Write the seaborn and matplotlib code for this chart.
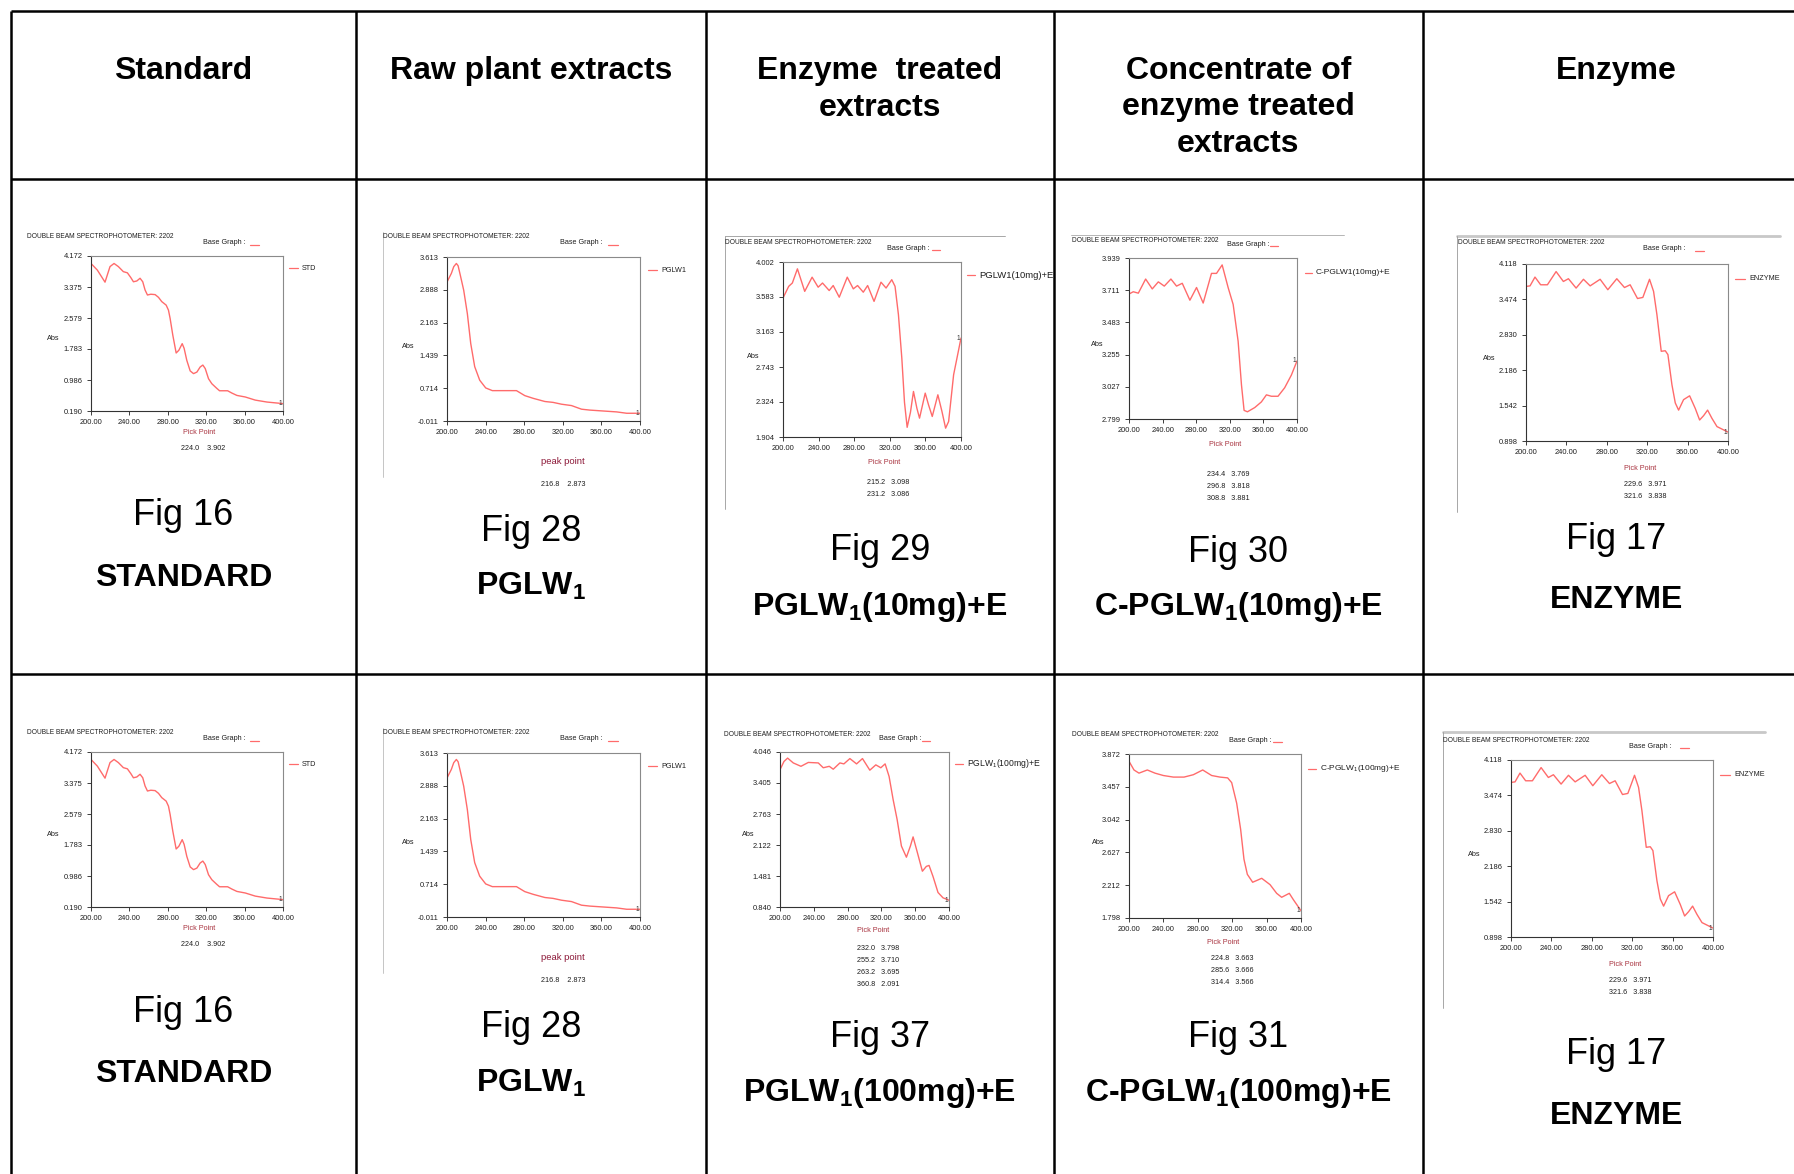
import matplotlib
matplotlib.use("Agg")
import matplotlib.pyplot as plt
import seaborn as sns
from matplotlib import font_manager

# ---------------- data ----------------
headers = [["Standard"], ["Raw plant extracts"], ["Enzyme  treated", "extracts"],
           ["Concentrate of", "enzyme treated", "extracts"], ["Enzyme"]]

wl_ticks = [200, 240, 280, 320, 360, 400]

std_wl = [200, 206.6, 214.6, 219.8, 224.0, 228.5, 233.7, 237.9, 241.4, 244.2, 247.7, 251.1,
          253.9, 256.3, 258.8, 262.3, 266.8, 270.3, 273.7, 278.3, 280.7, 282.4, 285.2, 288.7,
          291.5, 295.0, 297.0, 299.8, 303.3, 306.8, 310.3, 313.7, 316.5, 319.0, 322.4, 325.9,
          331.1, 333.9, 342.3, 346.8, 352.0, 360.7, 371.1, 383.3, 400]
std_abs = [3.98, 3.81, 3.50, 3.90, 3.98, 3.90, 3.77, 3.74, 3.62, 3.51, 3.53, 3.60,
           3.51, 3.30, 3.17, 3.19, 3.18, 3.11, 3.00, 2.91, 2.78, 2.57, 2.14, 1.68,
           1.75, 1.92, 1.80, 1.49, 1.22, 1.15, 1.19, 1.32, 1.37, 1.28, 1.02, 0.89,
           0.77, 0.71, 0.71, 0.65, 0.59, 0.55, 0.47, 0.42, 0.38]
std_yticks = [0.190, 0.986, 1.783, 2.579, 3.375, 4.172]
std_pick = ["224.0    3.902"]

pglw_wl = [200, 204.5, 207, 209.7, 211.5, 213.8, 217.3, 221.1, 224.6, 228.7, 233.9, 240.1,
           247, 258.1, 272, 280.6, 289.3, 301.4, 310, 318.7, 329, 339.4, 348, 361.9,
           375.8, 386.2, 400]
pglw_abs = [3.06, 3.25, 3.40, 3.47, 3.42, 3.21, 2.88, 2.36, 1.70, 1.19, 0.89, 0.72,
            0.66, 0.66, 0.66, 0.55, 0.49, 0.42, 0.40, 0.36, 0.33, 0.25, 0.23, 0.21,
            0.19, 0.16, 0.16]
pglw_yticks = [-0.011, 0.714, 1.439, 2.163, 2.888, 3.613]
pglw_pick = ["216.8    2.873"]

e10_wl = [200, 206.4, 210.5, 216.2, 224.4, 232.7, 239.5, 244.4, 251.9, 256.4, 263.2, 272.2,
          279, 283.8, 290.2, 295.1, 302.3, 310.1, 315.8, 322.2, 325.9, 329.7, 333.5, 336.5,
          339.5, 343.2, 346.6, 350.4, 353.4, 359.8, 363.5, 367.7, 374, 378.6, 382.7, 386.1,
          391.7, 400]
e10_abs = [3.57, 3.71, 3.75, 3.92, 3.65, 3.82, 3.70, 3.75, 3.66, 3.72, 3.58, 3.82,
           3.68, 3.72, 3.64, 3.72, 3.53, 3.76, 3.69, 3.79, 3.71, 3.37, 2.85, 2.32,
           2.02, 2.20, 2.45, 2.25, 2.13, 2.43, 2.29, 2.15, 2.41, 2.21, 2.01, 2.09,
           2.65, 3.09]
e10_yticks = [1.904, 2.324, 2.743, 3.163, 3.583, 4.002]
e10_pick = ["215.2   3.098", "231.2   3.086"]

ce10_wl = [200, 205.1, 211.1, 219.8, 227.7, 234.9, 242, 249.9, 256.6, 263.4, 272.5, 280.4,
           288.3, 298.2, 304.2, 310.9, 318, 324, 329.9, 333.9, 337, 341, 349.7, 357.6,
           363.6, 369.5, 377.4, 385.3, 393.3, 400]
ce10_abs = [3.684, 3.70, 3.69, 3.79, 3.72, 3.77, 3.74, 3.79, 3.74, 3.76, 3.64, 3.73,
            3.62, 3.83, 3.83, 3.89, 3.73, 3.61, 3.35, 3.04, 2.86, 2.85, 2.88, 2.92,
            2.97, 2.96, 2.96, 3.02, 3.11, 3.21]
ce10_yticks = [2.799, 3.027, 3.255, 3.483, 3.711, 3.939]
ce10_pick = ["234.4   3.769", "296.8   3.818", "308.8   3.881"]

enz_wl = [200, 204, 208.9, 214.5, 221.2, 229.8, 237, 242, 249.6, 256.9, 263.5, 273.4,
          281, 289.9, 297.5, 303.1, 310.4, 315.7, 322.3, 326.3, 329.6, 333.9, 337.9, 340.5,
          344.5, 347.8, 351.1, 356, 362, 367.6, 371.9, 375.9, 379.8, 384.1, 389.1, 400]
enz_abs = [3.71, 3.72, 3.88, 3.74, 3.74, 3.98, 3.80, 3.85, 3.68, 3.84, 3.72, 3.84,
           3.65, 3.85, 3.69, 3.74, 3.49, 3.51, 3.84, 3.62, 3.20, 2.53, 2.54, 2.47,
           1.92, 1.59, 1.46, 1.65, 1.72, 1.49, 1.28, 1.36, 1.46, 1.31, 1.16, 1.06]
enz_yticks = [0.898, 1.542, 2.186, 2.830, 3.474, 4.118]
enz_pick = ["229.6   3.971", "321.6   3.838"]

e100_wl = [200, 204.7, 209, 215.7, 224.8, 233.5, 245.3, 251.2, 258.3, 263, 270.9, 275.6,
           282.7, 290.6, 297.6, 306.3, 313.4, 319.3, 324.4, 329.1, 333.9, 338.6, 343.7, 349.6,
           354.3, 357.5, 362.2, 368.5, 373.2, 376.4, 381.1, 387, 392.9, 400]
e100_abs = [3.68, 3.85, 3.92, 3.82, 3.75, 3.83, 3.82, 3.72, 3.75, 3.69, 3.82, 3.80,
            3.91, 3.80, 3.91, 3.67, 3.78, 3.72, 3.80, 3.54, 3.06, 2.65, 2.10, 1.87,
            2.10, 2.29, 1.99, 1.58, 1.68, 1.70, 1.47, 1.14, 1.03, 0.98]
e100_yticks = [0.840, 1.481, 2.122, 2.763, 3.405, 4.046]
e100_pick = ["232.0   3.798", "255.2   3.710", "263.2   3.695", "360.8   2.091"]

ce100_wl = [200, 205.8, 211.6, 221.3, 230.2, 239.9, 251.6, 264, 274.8, 285.7, 296.1, 305.8,
            314.7, 319.4, 325.2, 329.8, 333.7, 337.6, 343.8, 354.3, 364, 371.7, 377.5, 386.4,
            391.1, 400]
ce100_abs = [3.78, 3.67, 3.63, 3.67, 3.63, 3.60, 3.58, 3.58, 3.61, 3.67, 3.60, 3.58,
             3.57, 3.51, 3.25, 2.92, 2.54, 2.35, 2.25, 2.30, 2.22, 2.11, 2.06, 2.11,
             2.03, 1.89]
ce100_yticks = [1.798, 2.212, 2.627, 3.042, 3.457, 3.872]
ce100_pick = ["224.8   3.663", "285.6   3.666", "314.4   3.566"]

spectra = {
    "std": (std_wl, std_abs, std_yticks, std_pick, "STD"),
    "pglw": (pglw_wl, pglw_abs, pglw_yticks, pglw_pick, "PGLW1"),
    "e10": (e10_wl, e10_abs, e10_yticks, e10_pick, "PGLW1(10mg)+E"),
    "ce10": (ce10_wl, ce10_abs, ce10_yticks, ce10_pick, "C-PGLW1(10mg)+E"),
    "enz": (enz_wl, enz_abs, enz_yticks, enz_pick, "ENZYME"),
    "e100": (e100_wl, e100_abs, e100_yticks, e100_pick, "PGLW$_1$(100mg)+E"),
    "ce100": (ce100_wl, ce100_abs, ce100_yticks, ce100_pick, "C-PGLW$_1$(100mg)+E"),
}

fig_numbers = ["Fig 16", "Fig 28", "Fig 29", "Fig 30", "Fig 17",
               "Fig 16", "Fig 28", "Fig 37", "Fig 31", "Fig 17"]
sample_names = ["STANDARD", r"PGLW$_\mathbf{1}$", r"PGLW$_\mathbf{1}$(10mg)+E",
                r"C-PGLW$_\mathbf{1}$(10mg)+E", "ENZYME",
                "STANDARD", r"PGLW$_\mathbf{1}$", r"PGLW$_\mathbf{1}$(100mg)+E",
                r"C-PGLW$_\mathbf{1}$(100mg)+E", "ENZYME"]

# ---------------- layout (pixels of the 1794x1174 canvas) ----------------
W, H = 1794, 1174
col_lines = [11, 356, 706, 1054, 1423]
row_lines = [11, 178.5, 674]
col_centers = [183.5, 531, 880, 1238.5, 1616.6]
big_dy = 4.5  # va="center" sits a little high for the large labels

panels = [
    dict(key="std", box=(91, 256, 283, 411), title=(27, 237), base=(203, 243), dash=(250, 259),
         leg=(289, 298, 268, 5.2), absl=(53, 338), pick=(199, 433, "Pick Point"), vals=(203, 449),
         frames=[], fig=(183.5, 511, 573)),
    dict(key="pglw", box=(447, 257, 640, 421), title=(383, 237), base=(560, 243), dash=(608, 618),
         leg=(648, 657, 270, 5.2), absl=(408, 346), pick=(563, 462, "peak point"), vals=(563, 485),
         frames=[((383, 383), (232, 477), "#bbbbbb", 0.6)], fig=(531, 527, 582)),
    dict(key="e10", box=(783, 262, 961, 437), title=(725, 242), base=(887, 248), dash=(932, 940),
         leg=(967, 975, 275, 6.8), absl=(753, 356), pick=(884, 463, "Pick Point"), vals=(888, 482),
         frames=[((725, 1005), (236, 236), "#999999", 0.6), ((725, 725), (236, 509), "#999999", 0.6)],
         fig=(880, 546, 602)),
    dict(key="ce10", box=(1129, 258, 1297, 419), title=(1072, 240), base=(1227, 244), dash=(1270, 1278),
         leg=(1305, 1312, 273, 6), absl=(1097, 345), pick=(1225, 445, "Pick Point"), vals=(1228, 474),
         frames=[((1071, 1344), (234.5, 234.5), "#aaaaaa", 0.6)], fig=(1238.5, 548, 603)),
    dict(key="enz", box=(1526, 264, 1728, 441), title=(1458, 243), base=(1643, 249), dash=(1695, 1704),
         leg=(1735, 1745, 279, 5.2), absl=(1489, 358), pick=(1640, 468, "Pick Point"), vals=(1645, 485),
         frames=[((1457, 1780), (235.5, 235.5), "#c8c8c8", 2.0), ((1457, 1457), (236, 512), "#999999", 0.6)],
         fig=(1616.6, 535, 596)),
    dict(key="std", box=(91, 752, 283, 907), title=(27, 733), base=(203, 739), dash=(250, 259),
         leg=(289, 298, 764, 5.2), absl=(53, 834), pick=(199, 929, "Pick Point"), vals=(203, 945),
         frames=[], fig=(183.5, 1008, 1070)),
    dict(key="pglw", box=(447, 753, 640, 917), title=(383, 733), base=(560, 739), dash=(608, 618),
         leg=(648, 657, 766, 5.2), absl=(408, 842), pick=(563, 958, "peak point"), vals=(563, 981),
         frames=[((383, 383), (728, 973), "#bbbbbb", 0.6)], fig=(531, 1023, 1079)),
    dict(key="e100", box=(780, 752, 949, 907), title=(724, 735), base=(879, 739), dash=(922, 930),
         leg=(955, 963, 764, 6.2), absl=(748, 835), pick=(873, 931, "Pick Point"), vals=(878, 949),
         frames=[], fig=(880, 1033, 1088)),
    dict(key="ce100", box=(1129, 754, 1301, 918), title=(1072, 735), base=(1229, 740), dash=(1273, 1282),
         leg=(1308, 1316, 769, 6), absl=(1098, 842), pick=(1223, 943, "Pick Point"), vals=(1232, 959),
         frames=[], fig=(1238.5, 1033, 1088)),
    dict(key="enz", box=(1511, 760, 1713, 937), title=(1443, 740), base=(1629, 746), dash=(1680, 1689),
         leg=(1720, 1730, 775, 5.2), absl=(1474, 855), pick=(1625, 964, "Pick Point"), vals=(1630, 981),
         frames=[((1443, 1765), (731.5, 731.5), "#c8c8c8", 2.0), ((1443, 1443), (732, 1008), "#999999", 0.6)],
         fig=(1616.6, 1050, 1111)),
]

# ---------------- style ----------------
sns.set_theme(style="white")
names = {f.name for f in font_manager.fontManager.ttflist}
narrow = "Liberation Sans Narrow" if "Liberation Sans Narrow" in names else "Liberation Sans"
plt.rcParams["font.family"] = [narrow, "DejaVu Sans"]
plt.rcParams["mathtext.fontset"] = "custom"
plt.rcParams["mathtext.rm"] = "Liberation Sans"
plt.rcParams["mathtext.bf"] = "Liberation Sans:bold"
plt.rcParams["mathtext.it"] = "Liberation Sans"
arial = ["Liberation Sans", "DejaVu Sans"]

curve_color = "#ff6b6b"
pick_color = "#a8323e"
ink = "#1e1e1e"

fig = plt.figure(figsize=(W / 100, H / 100), dpi=100)
fig.patch.set_facecolor("white")
bg = fig.add_axes([0, 0, 1, 1])
bg.set_xlim(0, W)
bg.set_ylim(H, 0)
bg.axis("off")

# table grid
for x in col_lines:
    bg.plot([x, x], [row_lines[0], H], color="black", lw=1.8, solid_capstyle="butt")
for y in row_lines:
    bg.plot([col_lines[0], W], [y, y], color="black", lw=1.8, solid_capstyle="butt")

# header row
header_y = [66.4, 103, 139.6]
for cx, lines in zip(col_centers, headers):
    for i, line in enumerate(lines):
        bg.text(cx, header_y[i] + big_dy, line, ha="center", va="center", fontsize=23,
                fontweight="bold", family=arial, color="black")

# spectra panels
for p, fnum, sname in zip(panels, fig_numbers, sample_names):
    wl, ab, yt, pick_vals, leg_name = spectra[p["key"]]
    l, t, r, b = p["box"]
    ax = fig.add_axes([l / W, 1 - b / H, (r - l) / W, (b - t) / H])
    sns.lineplot(x=wl, y=ab, ax=ax, color=curve_color, linewidth=1.0)
    ax.set_xlim(wl_ticks[0], wl_ticks[-1])
    ax.set_ylim(yt[0], yt[-1])
    ax.set_xticks(wl_ticks)
    ax.set_xticklabels([f"{v:.2f}" for v in wl_ticks])
    ax.set_yticks(yt)
    ax.set_yticklabels([f"{v:.3f}" for v in yt])
    ax.set_xlabel("")
    ax.set_ylabel("")
    ax.tick_params(direction="out", length=3, width=0.6, pad=3, labelsize=5.4,
                   colors=ink, bottom=True, left=True)
    for side, col in [("left", "#333333"), ("bottom", "#333333"), ("top", "#8a8a8a"), ("right", "#8a8a8a")]:
        ax.spines[side].set_visible(True)
        ax.spines[side].set_color(col)
        ax.spines[side].set_linewidth(0.8)
    ax.text(wl[-1] - 1, ab[-1], "1", ha="right", va="center", fontsize=4.8, color="#333333")

    bg.text(p["title"][0], p["title"][1], "DOUBLE BEAM SPECTROPHOTOMETER: 2202", ha="left",
            va="center", fontsize=4.8, color=ink)
    bg.text(p["base"][0], p["base"][1], "Base Graph :", ha="left", va="center", fontsize=5.2,
            color=ink)
    bg.plot(list(p["dash"]), [p["base"][1] + 2, p["base"][1] + 2], color=curve_color, lw=0.9)
    lx0, lx1, ly, lsize = p["leg"]
    bg.plot([lx0, lx1], [ly, ly], color=curve_color, lw=0.9)
    bg.text(lx1 + 4, ly, leg_name, ha="left", va="center", fontsize=lsize, color=ink)
    bg.text(p["absl"][0], p["absl"][1], "Abs", ha="center", va="center", fontsize=5.2, color=ink)

    px, py, plabel = p["pick"]
    if plabel == "peak point":
        bg.text(px, py, plabel, ha="center", va="center", fontsize=6.8, family=arial,
                color="#8c1838")
    else:
        bg.text(px, py, plabel, ha="center", va="center", fontsize=5.2, color=pick_color)
    for i, v in enumerate(pick_vals):
        bg.text(p["vals"][0], p["vals"][1] + 12 * i, v, ha="center", va="center", fontsize=5.2,
                color=ink)

    for xs, ys, col, lw in p["frames"]:
        bg.plot(list(xs), list(ys), color=col, lw=lw)

    cx, fy, ny = p["fig"]
    bg.text(cx, fy + big_dy, fnum, ha="center", va="center", fontsize=26, family=arial, color="black")
    bg.text(cx, ny + big_dy, sname, ha="center", va="center", fontsize=23, fontweight="bold",
            family=arial, color="black")

fig.savefig("out.png", dpi=100)
